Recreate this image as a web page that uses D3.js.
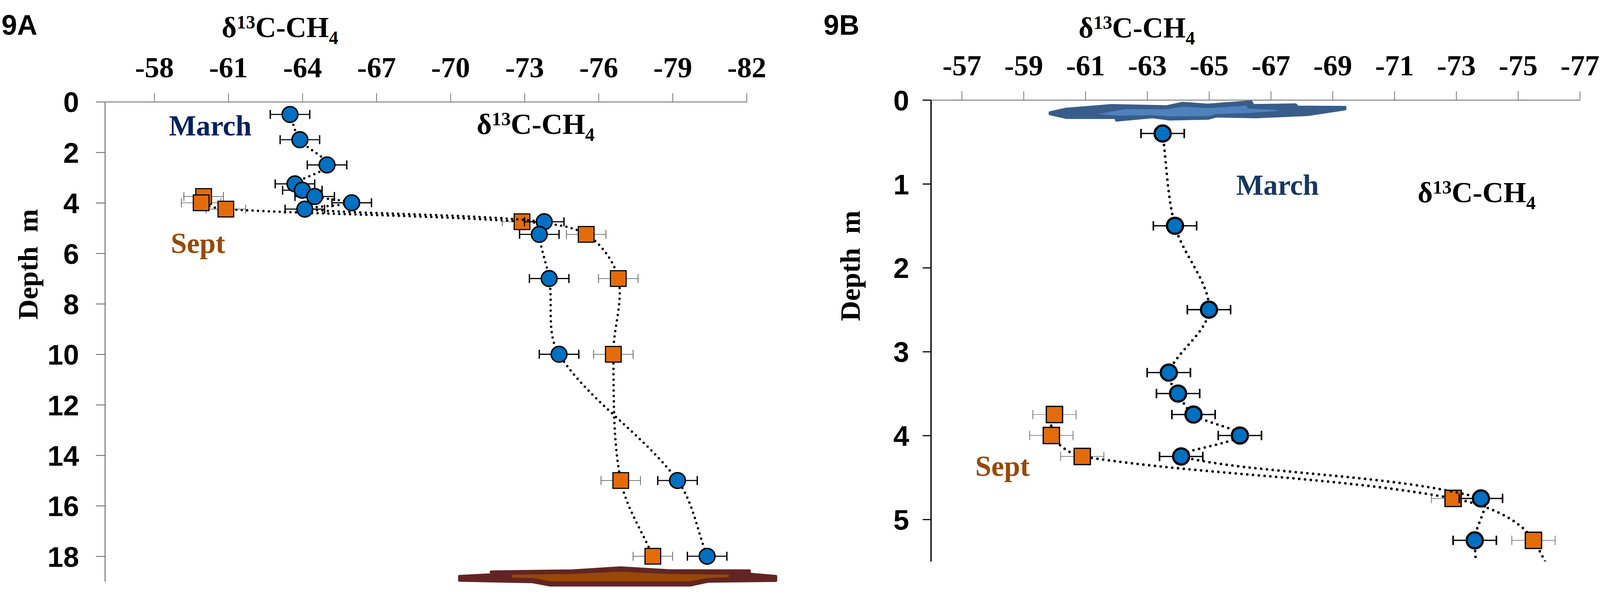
<!DOCTYPE html>
<html><head><meta charset="utf-8">
<script src="https://cdnjs.cloudflare.com/ajax/libs/d3/7.8.5/d3.min.js"></script>
<style>
html,body{margin:0;padding:0;background:#fff;overflow:hidden;}
svg{display:block;width:100vw;height:100vh;}
</style></head>
<body>
<svg id="chart" viewBox="0 0 4280 1537" preserveAspectRatio="xMidYMid meet"></svg>
<script>
// ---------------- DATA ----------------
const marchIso    = [-63.5, -63.9, -65.0, -63.7, -64.0, -64.5, -66.0, -64.1, -73.8, -73.6, -74.0, -74.4, -79.2, -80.4];
const marchDepthA = [0.5, 1.5, 2.5, 3.25, 3.5, 3.75, 4.0, 4.25, 4.75, 5.25, 7, 10, 15, 18];
const marchDepthB = [0.4, 1.5, 2.5, 3.25, 3.5, 3.75, 4.0, 4.25, 4.75, 5.25, 7, 10, 15, 18];
const septIso     = [-60.0, -59.9, -60.9, -72.9, -75.5, -76.8, -76.6, -76.9, -78.2];
const septDepth   = [3.75, 4.0, 4.25, 4.75, 5.25, 7, 10, 15, 18];
const errA = 0.8;
const errB = 0.7;

const xTicksA = [-58, -61, -64, -67, -70, -73, -76, -79, -82];
const yTicksA = [0, 2, 4, 6, 8, 10, 12, 14, 16, 18];
const xTicksB = [-57, -59, -61, -63, -65, -67, -69, -71, -73, -75, -77];
const yTicksB = [0, 1, 2, 3, 4, 5];

const panelLabels = ["9A", "9B"];
const seriesNames = ["March", "Sept"];

// decorative shapes, in data units [isotope, depth]
const sedimentOuter = [[-70.37,18.80],[-71.74,18.73],[-71.65,18.62],[-74.93,18.58],[-76.88,18.46],[-78.83,18.57],
  [-82.11,18.58],[-82.11,18.71],[-83.18,18.80],[-83.18,18.96],[-80.43,18.99],[-79.72,19.14],[-74.04,19.14],
  [-73.33,19.01],[-70.37,18.95]];
const sedimentInner = [[-72.50,18.73],[-74.93,18.70],[-76.88,18.61],[-78.83,18.70],[-81.28,18.73],[-81.28,18.83],
  [-80.43,18.86],[-79.72,18.99],[-74.04,18.99],[-73.33,18.86],[-72.50,18.85]];
const iceOuter = [[-59.86,0.152],[-60.36,0.111],[-61.84,0.067],[-63.64,0.080],[-64.15,0.040],[-64.95,0.062],
  [-66.36,0.022],[-66.43,0.067],[-67.80,0.058],[-67.86,0.085],[-69.40,0.089],[-69.40,0.107],[-68.20,0.174],
  [-66.51,0.201],[-65.23,0.192],[-64.98,0.218],[-63.71,0.227],[-63.17,0.201],[-62.01,0.241],[-61.98,0.209],
  [-60.40,0.209],[-59.86,0.165]];
const iceInner = [[-61.39,0.169],[-62.27,0.111],[-63.67,0.111],[-64.15,0.080],[-64.95,0.098],[-66.23,0.067],
  [-66.24,0.102],[-67.10,0.116],[-67.30,0.129],[-66.29,0.156],[-65.23,0.169],[-65.02,0.192],[-63.71,0.196],
  [-63.17,0.183],[-62.00,0.187]];

// ---------------- DRAW ----------------
const svg = d3.select("#chart");
svg.append("rect").attr("width",4280).attr("height",1537).attr("fill","#fff");

const SERIF = "'Liberation Serif','Times New Roman',serif";
const SANS = "'Liberation Sans',Arial,sans-serif";

// spreadsheet-style smoothed line: Bezier with chord-weighted tangents
function smoothPath(pts) {
  const p = d3.path();
  const n = pts.length;
  const dist = (a, b) => Math.hypot(b[0]-a[0], b[1]-a[1]);
  p.moveTo(pts[0][0], pts[0][1]);
  for (let i = 0; i < n - 1; i++) {
    const P0 = pts[Math.max(i-1, 0)], P1 = pts[i], P2 = pts[i+1], P3 = pts[Math.min(i+2, n-1)];
    const d01 = dist(P0, P1), d12 = dist(P1, P2), d23 = dist(P2, P3);
    const f1 = d12 / (3 * (d01 + d12)), f2 = d12 / (3 * (d12 + d23));
    p.bezierCurveTo(
      P1[0] + (P2[0]-P0[0]) * f1, P1[1] + (P2[1]-P0[1]) * f1,
      P2[0] - (P3[0]-P1[0]) * f2, P2[1] - (P3[1]-P1[1]) * f2,
      P2[0], P2[1]);
  }
  return p.toString();
}

function isoLabel(x, y, size) {
  const t = svg.append("text")
    .attr("x", x).attr("y", y)
    .attr("font-family", SERIF).attr("font-weight", "bold")
    .attr("font-size", size).attr("fill", "#000");
  t.append("tspan").text("δ");
  t.append("tspan").attr("font-size", size*0.65).attr("dy", -size*0.30).text("13");
  t.append("tspan").attr("dy", size*0.30).text("C-CH");
  t.append("tspan").attr("font-size", size*0.65).attr("dy", size*0.24).text("4");
}

function panel(cfg) {
  const x = d3.scaleLinear().domain(cfg.xDomain).range(cfg.xRange);
  const y = d3.scaleLinear().domain(cfg.yDomain).range(cfg.yRange);
  const g = svg.append("g");

  // decoration
  const poly = d3.line().x(d => x(d[0])).y(d => y(d[1])).curve(d3.curveLinearClosed);
  g.append("path").attr("d", poly(cfg.decoOuter)).attr("fill", cfg.decoColors[0])
    .attr("stroke", cfg.decoColors[0]).attr("stroke-width", 8).attr("stroke-linejoin", "round");
  g.append("path").attr("d", poly(cfg.decoInner)).attr("fill", cfg.decoColors[1]);

  // x axis (top)
  const xAxis = d3.axisTop(x).tickValues(cfg.xTicks).tickSize(23).tickSizeOuter(0)
    .tickPadding(cfg.xPad).tickFormat(d => String(d));
  const gx = g.append("g").attr("transform", `translate(0,${cfg.yRange[0]})`).call(xAxis);
  gx.select(".domain").attr("stroke", "#808080").attr("stroke-width", 2.5);
  gx.selectAll(".tick line").attr("stroke", "#707070").attr("stroke-width", 2);
  gx.selectAll(".tick text").attr("font-family", SERIF).attr("font-weight", "bold")
    .attr("font-size", 78).attr("fill", "#000");

  // y axis (left)
  const yAxis = d3.axisLeft(y).tickValues(cfg.yTicks).tickSize(cfg.yTickLen).tickSizeOuter(0)
    .tickPadding(cfg.yPad).tickFormat(d => String(d));
  const gy = g.append("g").attr("transform", `translate(${cfg.xRange[0]},0)`).call(yAxis);
  gy.select(".domain").attr("stroke", cfg.yAxisColor).attr("stroke-width", cfg.yAxisW);
  gy.selectAll(".tick line").attr("stroke", cfg.yTickColor).attr("stroke-width", cfg.yTickW);
  gy.selectAll(".tick text").attr("font-family", SANS).attr("font-weight", "bold")
    .attr("font-size", 76).attr("fill", "#000").attr("dy", "0.36em");

  // clip
  const clipId = "clip" + cfg.id;
  svg.append("clipPath").attr("id", clipId).append("rect")
    .attr("x", cfg.xRange[0] - 100).attr("y", cfg.yRange[0] - 50)
    .attr("width", cfg.xRange[1] - cfg.xRange[0] + 200)
    .attr("height", cfg.yRange[1] - cfg.yRange[0] + 50);

  const maxD = cfg.yDomain[1];
  const sept = septIso.map((v,i) => ({v, d: septDepth[i]}));
  const march = marchIso.map((v,i) => ({v, d: cfg.marchDepth[i]}));

  const series = [
    {name: "Sept", data: sept, barColor: "#666666", barW: cfg.septBarW},
    {name: "March", data: march, barColor: "#000", barW: cfg.marchBarW}
  ];

  series.forEach(s => {
    const sg = g.append("g");
    sg.append("path").attr("d", smoothPath(s.data.map(d => [x(d.v), y(d.d)]))).attr("fill", "none")
      .attr("stroke", "#000").attr("stroke-width", cfg.dotW).attr("stroke-linecap", "round")
      .attr("stroke-dasharray", cfg.dash).attr("clip-path", `url(#${clipId})`);
    const vis = s.data.filter(d => d.d <= maxD);
    // error bars
    const eb = sg.selectAll("g.eb").data(vis).enter().append("g")
      .attr("stroke", s.barColor).attr("stroke-width", s.barW);
    eb.append("line").attr("x1", d => x(d.v - cfg.err)).attr("x2", d => x(d.v + cfg.err))
      .attr("y1", d => y(d.d)).attr("y2", d => y(d.d));
    eb.append("line").attr("x1", d => x(d.v - cfg.err)).attr("x2", d => x(d.v - cfg.err))
      .attr("y1", d => y(d.d) - cfg.cap).attr("y2", d => y(d.d) + cfg.cap)
      .attr("stroke-width", s.barW * cfg.capMul);
    eb.append("line").attr("x1", d => x(d.v + cfg.err)).attr("x2", d => x(d.v + cfg.err))
      .attr("y1", d => y(d.d) - cfg.cap).attr("y2", d => y(d.d) + cfg.cap)
      .attr("stroke-width", s.barW * cfg.capMul);
    // markers
    if (s.name === "March") {
      sg.selectAll("circle").data(vis).enter().append("circle")
        .attr("cx", d => x(d.v)).attr("cy", d => y(d.d)).attr("r", cfg.circR)
        .attr("fill", "#0070C0").attr("stroke", "#000").attr("stroke-width", cfg.circW);
    } else {
      sg.selectAll("rect").data(vis).enter().append("rect")
        .attr("x", d => x(d.v) - cfg.sq/2).attr("y", d => y(d.d) - cfg.sq/2)
        .attr("width", cfg.sq).attr("height", cfg.sq)
        .attr("fill", "#E36C0A").attr("stroke", "#000").attr("stroke-width", cfg.sqW);
    }
  });

  // texts
  svg.append("text").attr("x", cfg.labelX).attr("y", 58).attr("font-family", SANS)
    .attr("font-weight", "bold").attr("font-size", 75).attr("fill", "#000").text(cfg.label);
  isoLabel(cfg.titleX, cfg.titleY, 77);
  isoLabel(cfg.annX, cfg.annY, 78);
  svg.append("text").attr("transform", `translate(${cfg.depthX},${cfg.depthY}) rotate(-90)`)
    .attr("text-anchor", "middle").attr("font-family", SERIF).attr("font-weight", "bold")
    .attr("font-size", 75).attr("fill", "#000").attr("xml:space", "preserve")
    .style("white-space", "pre").text("Depth  m");
  svg.append("text").attr("x", cfg.marchX).attr("y", cfg.marchY).attr("font-family", SERIF)
    .attr("font-weight", "bold").attr("font-size", 77).attr("fill", cfg.marchColor).text(seriesNames[0]);
  svg.append("text").attr("x", cfg.septX).attr("y", cfg.septY).attr("font-family", SERIF)
    .attr("font-weight", "bold").attr("font-size", 77).attr("fill", "#984807").text(seriesNames[1]);
}

panel({
  id: "A", label: panelLabels[0], labelX: 4,
  xDomain: [-56, -82], xRange: [280.6, 1997.2],
  yDomain: [0, 19], yRange: [238, 1522],
  xTicks: xTicksA, yTicks: yTicksA, xPad: 43, yPad: 45, yTickLen: 24,
  yAxisColor: "#808080", yAxisW: 3, yTickColor: "#555", yTickW: 2,
  marchDepth: marchDepthA, err: errA, cap: 12, capMul: 1.2, marchBarW: 3, septBarW: 1.8,
  circR: 21, circW: 4, sq: 42, sqW: 3, dotW: 6.5, dash: "0 14.5",
  decoOuter: sedimentOuter, decoInner: sedimentInner, decoColors: ["#632523", "#984807"],
  titleX: 593, titleY: 65, annX: 1275, annY: 324,
  depthX: 100, depthY: 673,
  marchX: 452, marchY: 328, marchColor: "#002060",
  septX: 457, septY: 643
});

panel({
  id: "B", label: panelLabels[1], labelX: 2203,
  xDomain: [-56, -77], xRange: [2490, 4226],
  yDomain: [0, 5.5], yRange: [233, 1468],
  xTicks: xTicksB, yTicks: yTicksB, xPad: 43, yPad: 36, yTickLen: 22,
  yAxisColor: "#000", yAxisW: 3.5, yTickColor: "#000", yTickW: 3,
  marchDepth: marchDepthB, err: errB, cap: 12.5, capMul: 1.25, marchBarW: 3.4, septBarW: 1.5,
  circR: 21.5, circW: 6, sq: 43.5, sqW: 3.4, dotW: 7, dash: "0 15.5",
  decoOuter: iceOuter, decoInner: iceInner, decoColors: ["#385D8A", "#4F81BD"],
  titleX: 2885, titleY: 66, annX: 3792, annY: 507,
  depthX: 2300, depthY: 677,
  marchX: 3307, marchY: 487, marchColor: "#17375E",
  septX: 2609, septY: 1239
});
</script>
</body></html>
